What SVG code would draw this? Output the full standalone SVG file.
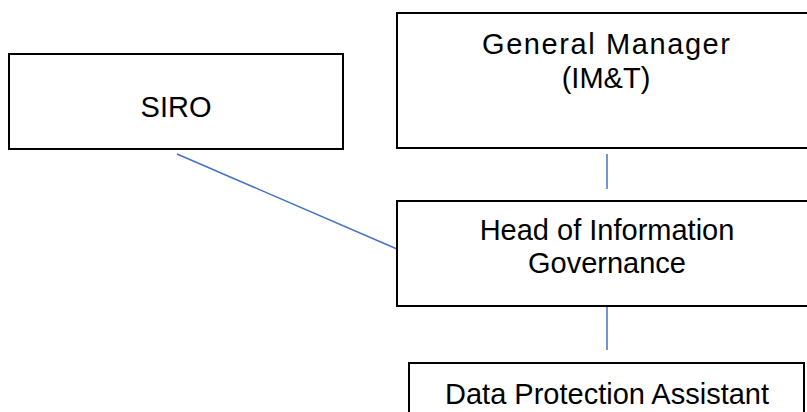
<svg xmlns="http://www.w3.org/2000/svg" width="807" height="412" viewBox="0 0 807 412">
<style>
.box{fill:#fff;stroke:#000;stroke-width:2}
.lbl{font-family:"Liberation Sans",Arial,sans-serif;font-size:29px;fill:#000;text-anchor:middle}
.con{stroke:#4472C4;stroke-width:1.5;fill:none}
</style>
<rect width="807" height="412" fill="#fff"/>
<g id="connectors">
<line class="con" x1="177" y1="154" x2="397" y2="249"/>
<line class="con" x1="607" y1="154" x2="607" y2="189"/>
<line class="con" x1="607" y1="307" x2="607" y2="350"/>
</g>
<g id="siro">
<rect class="box" x="9" y="54" width="334" height="95"/>
<text class="lbl" x="176" y="117">SIRO</text>
</g>
<g id="gm">
<rect class="box" x="397" y="13" width="420" height="135"/>
<text class="lbl" x="606" y="54" textLength="248" lengthAdjust="spacing">General Manager</text>
<text class="lbl" x="606" y="88">(IM&amp;T)</text>
</g>
<g id="head">
<rect class="box" x="397" y="201" width="420" height="105"/>
<text class="lbl" x="607" y="240">Head of Information</text>
<text class="lbl" x="607" y="273">Governance</text>
</g>
<g id="dpa">
<rect class="box" x="409" y="363" width="395" height="60"/>
<text class="lbl" x="607" y="404">Data Protection Assistant</text>
</g>
</svg>
